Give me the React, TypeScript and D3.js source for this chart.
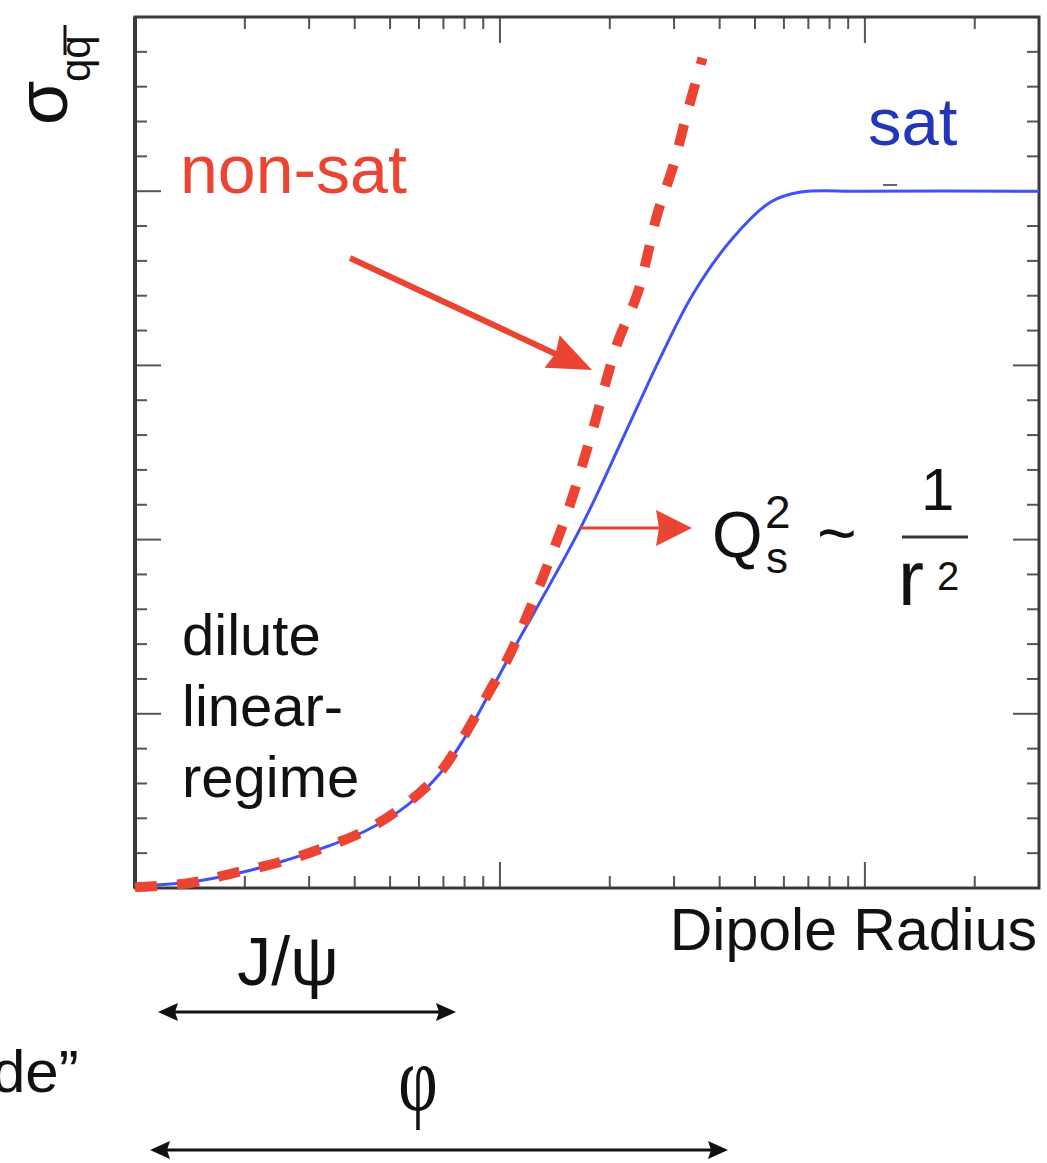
import React from "react";
import * as d3 from "d3";

// dipole radius (log axis) and cross section
const satR = [0.1, 0.1415, 0.198, 0.25, 0.328, 0.433, 0.558, 0.687, 0.794, 0.924, 1.069, 1.663, 2.18, 2.756, 3.395, 4.37, 5.52, 6.67, 9.75, 30];
const satSigma = [0.01, 0.034, 0.092, 0.149, 0.23, 0.333, 0.476, 0.66, 0.85, 1.096, 1.34, 2.067, 2.589, 3.048, 3.416, 3.737, 3.938, 3.995, 4.0, 4.0];

const nonSatR = [0.1, 0.1415, 0.186, 0.25, 0.328, 0.436, 0.558, 0.687, 0.794, 0.93, 1.069, 1.494, 1.772, 2.1, 2.384, 2.705, 2.99, 3.23, 3.59];
const nonSatSigma = [0.005, 0.029, 0.086, 0.149, 0.23, 0.339, 0.488, 0.666, 0.867, 1.119, 1.349, 2.095, 2.589, 3.129, 3.416, 3.875, 4.15, 4.42, 4.765];

const yMinorTicks = d3.range(1, 25).map(i => i * 0.2);
const yMajorTicks = [1, 2, 3, 4];

const regimeLines = ["dilute", "linear-", "regime"];

const W = 1047, H = 1163;
const plot = { left: 135, right: 1039, top: 17, bottom: 888 };

const RED = "#ec4432";
const BLUE = "#3f52f5";
const SANS = "'Liberation Sans', Arial, Helvetica, sans-serif";

function head(x1: number, y1: number, x2: number, y2: number, len: number, hw: number, notch = 0) {
  const a = Math.atan2(y2 - y1, x2 - x1);
  const c = Math.cos(a), s = Math.sin(a);
  const bx = x2 - c * len, by = y2 - s * len;
  const nx = x2 - c * (len - notch), ny = y2 - s * (len - notch);
  return [
    [x2, y2],
    [bx - s * hw, by + c * hw],
    [nx, ny],
    [bx + s * hw, by - c * hw],
  ].map(p => p.join(",")).join(" ");
}

export default function App() {
  const x = d3.scaleLog().domain([0.1, 30]).range([plot.left, plot.right]);
  const y = d3.scaleLinear().domain([0, 5]).range([plot.bottom, plot.top]);

  const line = d3.line<number[]>()
    .x(d => d[0])
    .y(d => d[1])
    .curve(d3.curveCatmullRom.alpha(0.5));

  const satPath = line(satR.map((r, i) => [x(r), y(satSigma[i])]));
  const nonSatPath = line(nonSatR.map((r, i) => [x(r), y(nonSatSigma[i])]));

  const xTicks = x.ticks().filter(t => t > 0.1 && t < 30);
  const isMajor = (t: number) => Math.abs(Math.log10(t) - Math.round(Math.log10(t))) < 1e-6;

  const axisCol = "#3a3a3a";
  const tickCol = "#555";

  // Q_s marker sits on the sat curve
  const qx = x(1.663), qy = y(2.067);

  return (
    <svg width={W} height={H} style={{ position: "absolute", left: 0, top: 0, background: "#fff" }}>
      {/* ticks, all pointing inward */}
      <g stroke={tickCol} strokeWidth={2}>
        {xTicks.map(t => {
          const L = isMajor(t) ? 26 : 12;
          return (
            <g key={"x" + t}>
              <line x1={x(t)} x2={x(t)} y1={plot.bottom} y2={plot.bottom - L} />
              <line x1={x(t)} x2={x(t)} y1={plot.top} y2={plot.top + L} />
            </g>
          );
        })}
        {yMinorTicks.map(t => {
          const L = yMajorTicks.some(m => Math.abs(m - t) < 1e-6) ? 26 : 12;
          return (
            <g key={"y" + t}>
              <line x1={plot.left} x2={plot.left + L} y1={y(t)} y2={y(t)} />
              <line x1={plot.right} x2={plot.right - L} y1={y(t)} y2={y(t)} />
            </g>
          );
        })}
      </g>
      <rect x={plot.left} y={plot.top} width={plot.right - plot.left} height={plot.bottom - plot.top}
        fill="none" stroke={axisCol} strokeWidth={3} />
      <line x1={plot.left} x2={plot.left} y1={plot.top} y2={plot.bottom} stroke={axisCol} strokeWidth={4} />

      {/* curves */}
      <path d={satPath || ""} fill="none" stroke={BLUE} strokeWidth={3} />
      <path d={nonSatPath || ""} fill="none" stroke={RED} strokeWidth={10} strokeDasharray="22 20" />

      {/* stray mark near the sat plateau */}
      <line x1={883} x2={897} y1={185} y2={185} stroke="#666" strokeWidth={2} />

      {/* y label: sigma_{q qbar} */}
      <g transform="translate(67,125) rotate(-90)" fill="#111" fontFamily={SANS}>
        <text x={0} y={0} fontSize={72}>σ</text>
        <text x={43} y={23} fontSize={42}>qq</text>
        <line x1={70} x2={100} y1={-2} y2={-2} stroke="#111" strokeWidth={3} />
      </g>

      <text x={868} y={145} fontSize={67} fill="#2236b8" fontFamily={SANS}>sat</text>
      <text x={180} y={193} fontSize={68} fill={RED} fontFamily={SANS}>non-sat</text>

      {/* non-sat arrow */}
      <line x1={350} y1={258} x2={560} y2={356} stroke={RED} strokeWidth={6} />
      <polygon points={head(350, 258, 592, 370, 44, 18, 4)} fill={RED} />

      {/* Q_s arrow */}
      <line x1={qx} y1={qy} x2={665} y2={qy} stroke={RED} strokeWidth={3} />
      <polygon points={head(qx, qy, 692, qy, 36, 18, 3)} fill={RED} />

      <g fill="#111" fontFamily={SANS}>
        <text x={712} y={557} fontSize={65}>Q</text>
        <text x={765} y={528} fontSize={46}>2</text>
        <text x={766} y={573} fontSize={44}>s</text>
        <text x={817} y={557} fontSize={68}>~</text>
        <text x={921} y={510} fontSize={60}>1</text>
        <line x1={902} x2={968} y1={537} y2={537} stroke="#333" strokeWidth={3} />
        <text x={898} y={605} fontSize={78}>r</text>
        <text x={937} y={590} fontSize={40}>2</text>
      </g>

      {/* regime text */}
      <text x={182} y={655} fontSize={58} fill="#111" fontFamily={SANS}>
        {regimeLines.map((s, i) => (
          <tspan key={s} x={182} y={655 + i * 71}>{s}</tspan>
        ))}
      </text>

      <text x={1037} y={950} fontSize={59} textAnchor="end" fill="#111" fontFamily={SANS}>Dipole Radius</text>

      {/* size ranges */}
      <text x={288} y={985} fontSize={68} textAnchor="middle" fill="#111" fontFamily={SANS}>J/ψ</text>
      <line x1={170} x2={444} y1={1012} y2={1012} stroke="#111" strokeWidth={3} />
      <polygon points={head(300, 1012, 158, 1012, 20, 9, 3)} fill="#111" />
      <polygon points={head(300, 1012, 456, 1012, 20, 9, 3)} fill="#111" />

      <text transform="translate(418,1110) scale(0.95,1.3)" fontSize={72} textAnchor="middle" fill="#111"
        fontFamily="'Liberation Serif', 'DejaVu Serif', serif">φ</text>
      <line x1={162} x2={716} y1={1150} y2={1150} stroke="#111" strokeWidth={3} />
      <polygon points={head(400, 1150, 150, 1150, 20, 9, 3)} fill="#111" />
      <polygon points={head(400, 1150, 728, 1150, 20, 9, 3)} fill="#111" />

      <text x={-8} y={1092} fontSize={60} fill="#111" fontFamily={SANS}>de”</text>
    </svg>
  );
}
